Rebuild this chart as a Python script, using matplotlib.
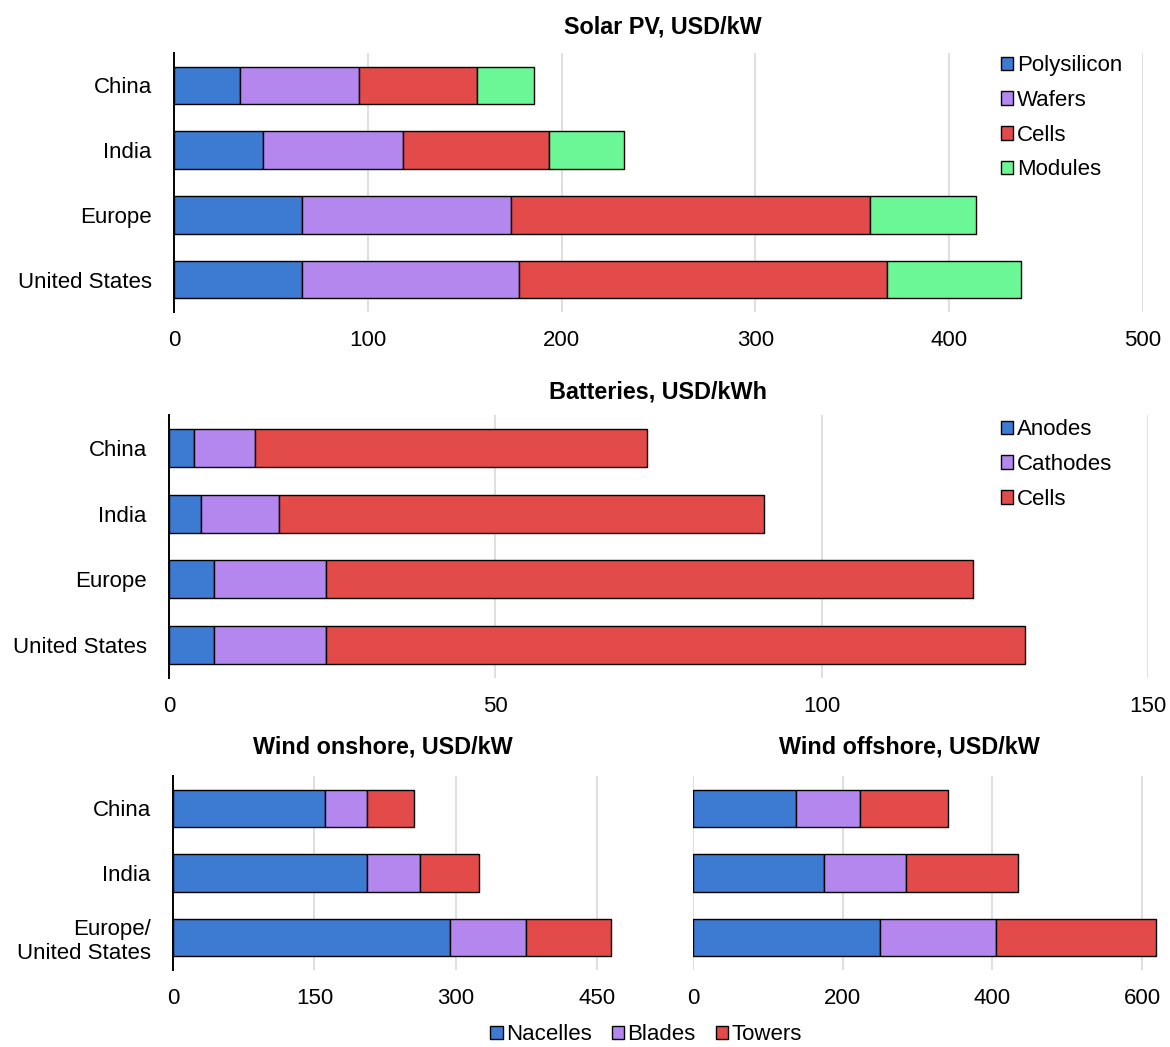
import numpy as np
import matplotlib.pyplot as plt

plt.rcParams['font.family'] = ['Liberation Sans', 'DejaVu Sans']

# colours
blue = '#3d7ad2'
purple = '#b387ee'
red = '#e24b4a'
green = '#6bf795'

# Solar PV, USD/kW (stack segments)
solar_regions = ['China', 'India', 'Europe', 'United States']
solar_polysilicon = [34, 46, 66, 66]
solar_wafers = [61.5, 72, 108, 112]
solar_cells = [61, 75.5, 185, 190]
solar_modules = [29.5, 38.5, 55, 69]

# Batteries, USD/kWh
batt_regions = ['China', 'India', 'Europe', 'United States']
batt_anodes = [3.8, 4.9, 6.9, 6.9]
batt_cathodes = [9.4, 11.9, 17.1, 17.1]
batt_cells = [60.1, 74.3, 99.2, 107.1]

# Wind, USD/kW
wind_regions = ['China', 'India', 'Europe/\nUnited States']
on_nacelles = [161, 205.5, 293.5]
on_blades = [45, 56.5, 81.5]
on_towers = [49.5, 63, 89.5]
off_nacelles = [137.5, 175, 250]
off_blades = [85, 109, 155]
off_towers = [118, 150, 214]

FS = 16
TFS = 16.8
W, H = 1170, 1047
fig = plt.figure(figsize=(W / 100, H / 100), dpi=100)


def add_ax(left, right, top, bottom):
    return fig.add_axes([left / W, 1 - bottom / H, (right - left) / W, (bottom - top) / H])


def stacked(ax, cats, series, colors, labels, xmax, ticks, spine=True):
    y = np.arange(len(cats))
    left = np.zeros(len(cats))
    for vals, c, lab in zip(series, colors, labels):
        ax.barh(y, vals, left=left, height=0.58, color=c, edgecolor='black',
                linewidth=1.0, label=lab, zorder=3)
        left = left + np.array(vals)
    ax.set_yticks(y)
    ax.set_yticklabels(cats)
    ax.set_ylim(len(cats) - 0.5, -0.5)
    ax.set_xlim(0, xmax)
    ax.set_xticks(ticks)
    ax.grid(axis='x', color='#dcdcdc', linewidth=1.3, zorder=0)
    ax.set_axisbelow(True)
    for s in ['top', 'right', 'bottom']:
        ax.spines[s].set_visible(False)
    if spine:
        ax.spines['left'].set_color('black')
        ax.spines['left'].set_linewidth(1.4)
        ax.spines['left'].set_zorder(4)
    else:
        ax.spines['left'].set_visible(False)
    ax.tick_params(axis='both', length=0, labelsize=FS)
    ax.tick_params(axis='x', pad=13)
    ax.tick_params(axis='y', pad=16)


def side_legend(ax, top):
    fig.legend(*ax.get_legend_handles_labels(), loc='upper left',
               bbox_to_anchor=(990 / W, 1 - top / H), frameon=False, fontsize=FS,
               borderpad=0, handlelength=0.55, handleheight=0.55,
               handletextpad=0.15, labelspacing=0.62)


# Solar PV
ax1 = add_ax(174, 1143, 53, 312)
stacked(ax1, solar_regions,
        [solar_polysilicon, solar_wafers, solar_cells, solar_modules],
        [blue, purple, red, green],
        ['Polysilicon', 'Wafers', 'Cells', 'Modules'],
        500, [0, 100, 200, 300, 400, 500])
fig.text(663 / W, 1 - 27 / H, 'Solar PV, USD/kW', ha='center', va='center',
         fontsize=TFS, fontweight='bold')
side_legend(ax1, 44)

# Batteries
ax2 = add_ax(169, 1148, 415, 678)
stacked(ax2, batt_regions, [batt_anodes, batt_cathodes, batt_cells],
        [blue, purple, red], ['Anodes', 'Cathodes', 'Cells'],
        150, [0, 50, 100, 150])
fig.text(658 / W, 1 - 392 / H, 'Batteries, USD/kWh', ha='center', va='center',
         fontsize=TFS, fontweight='bold')
side_legend(ax2, 408)

# Wind onshore
ax3 = add_ax(173, 616, 776, 970)
stacked(ax3, wind_regions, [on_nacelles, on_blades, on_towers],
        [blue, purple, red], ['Nacelles', 'Blades', 'Towers'],
        470, [0, 150, 300, 450])
fig.text(383 / W, 1 - 747 / H, 'Wind onshore, USD/kW', ha='center', va='center',
         fontsize=TFS, fontweight='bold')

# Wind offshore
ax4 = add_ax(693, 1160, 776, 970)
stacked(ax4, wind_regions, [off_nacelles, off_blades, off_towers],
        [blue, purple, red], ['Nacelles', 'Blades', 'Towers'],
        624, [0, 200, 400, 600], spine=False)
ax4.set_yticklabels([])
fig.text(909 / W, 1 - 747 / H, 'Wind offshore, USD/kW', ha='center', va='center',
         fontsize=TFS, fontweight='bold')

fig.legend(*ax3.get_legend_handles_labels(), loc='center',
           bbox_to_anchor=(646 / W, 1 - 1035 / H), ncol=3, frameon=False,
           fontsize=FS, borderpad=0, handlelength=0.55, handleheight=0.55,
           handletextpad=0.15, columnspacing=0.9)

fig.savefig('out.png', dpi=100)
